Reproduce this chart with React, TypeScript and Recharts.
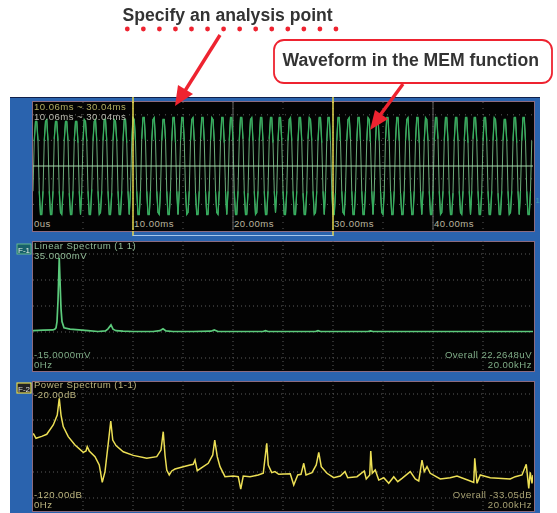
import React from "react";
import { LineChart, Line, XAxis, YAxis, CartesianGrid, ReferenceLine } from "recharts";

const FONT = '"Liberation Sans", Arial, sans-serif';

const timeTicks = [0, 10, 20, 30, 40];
const timeTickLabels = ["0us", "10.00ms", "20.00ms", "30.00ms", "40.00ms"];
const cursorTimes = [10, 30];
const majorTimes = [20, 40];

// Sampled every 0.125 ms, in mV, over 0 to 50 ms
const waveformValues = [
  -13,13,23,23,13,-13,-25,-25, -13,13,23,24,13,-13,-25,-25, -13,14,23,23,13,-13,-24,-25, -13,13,23,23,13,-14,-25,-25, -13,13,23,23,12,-13,-25,
  -13,13,24,23,13,-13,-25,-25, -12,13,23,24,13,-13,-25,-24, -13,13,24,24,13,-13,-25,-25, -14,13,24,23,13,-13,-25,-25, -13,13,24,24,12,-13,-25,
  -13,13,25,24,13,-13,-25,-25, -13,14,25,25,13,-13,-25,-25, -13,13,24,25,13,-13,-24,-25, -13,13,24,24,14,-13,-25,-25, -13,13,25,25,12,-13,-25,
  -13,13,25,25,13,-13,-25,-24, -13,13,24,25,13,-14,-25,-25, -13,14,25,25,13,-13,-25,-25, -13,13,25,24,13,-13,-24,-25, -13,13,25,25,12,-13,-25,
  -13,13,25,25,13,-13,-25,-25, -13,13,25,25,14,-13,-25,-25, -14,13,24,25,13,-13,-25,-24, -13,13,25,25,13,-13,-25,-25, -13,14,25,25,12,-13,-24,
  -13,13,25,25,13,-13,-25,-25, -13,13,24,25,13,-13,-25,-25, -13,13,25,25,13,-14,-25,-25, -13,14,25,24,13,-13,-25,-24, -13,13,25,25,12,-13,-25,
  -13,13,25,25,13,-13,-25,-25, -14,13,25,25,13,-13,-24,-25, -13,13,24,25,14,-13,-25,-25, -13,13,25,25,13,-13,-25,-25, -13,13,25,24,12,-13,-25,
  -13,13,25,25,13,-13,-24,-25, -13,14,25,25,13,-13,-25,-25, -13,13,25,25,13,-14,-25,-25, -13,13,24,25,13,-13,-25,-25, -13,13,25,25,12,-13,-25,
  -13,13,25,24,13,-13,-25,-25, -13,13,25,25,14,-13,-25,-24, -13,13,25,25,13,-13,-25,-25, -14,13,25,25,13,-13,-24,-25, -13,13,25,25,12,-13,-25,
  -13,14,25,25,13,-13,-25,-25, -13,13,25,25,13,-13,-25,-25, -13,13,25,24,13,-14,-25,-25, -13,13,24,24,13,-13,-25,-24, -13,13,25,25,12,-13,-25,
  -13,13,25,25,13,-13,-25,-25, -13,13,
];

const linearFreq = [0, 0.4, 0.8, 0.88, 0.92, 0.96, 1.0, 1.05, 1.08, 1.12, 1.16, 1.24, 1.48, 2.2, 2.6, 2.9, 3.0, 3.12, 3.2, 3.32, 3.6, 4.0, 4.8, 5.08, 5.2, 5.32, 5.6, 6.4, 7.12, 7.25, 7.4, 8.4, 9.2, 9.3, 9.4, 11.3, 11.4, 11.5, 13.4, 13.5, 13.6, 16, 20];
const linearValues = [0.5, 0.7, 0.8, 1.1, 1.6, 4, 12, 28.5, 20, 9, 4, 1.6, 1.1, 0.5, 0.2, 0.4, 1.2, 2.7, 1.1, 0.5, 0.3, 0.2, 0.2, 0.5, 1.2, 0.4, 0.2, 0.2, 0.3, 0.8, 0.2, 0.2, 0.2, 0.5, 0.2, 0.2, 0.5, 0.2, 0.2, 0.4, 0.2, 0.2, 0.2];

const powerFreq = [0.01,0.12,0.35,0.55,0.81,0.97,1.05,1.12,1.21,1.41,1.68,2.01,2.12,2.17,2.25,2.48,2.65,2.77,2.88,3.01,3.11,3.19,3.32,3.61,4.01,4.55,4.95,5.12,5.21,5.28,5.35,5.45,5.55,5.68,6.01,6.28,6.41,6.48,6.57,6.81,7.01,7.19,7.27,7.37,7.48,7.68,8.01,8.21,8.31,8.41,8.68,9.01,9.21,9.35,9.41,9.55,9.68,
  9.83,10.29,10.43,10.59,10.72,10.83,10.92,11.16,11.33,11.43,11.53,11.76,12.03,12.29,12.48,12.59,12.96,13.25,13.33,13.47,13.51,13.57,13.69,13.83,14.03,14.23,14.43,14.59,14.76,15.09,15.29,15.43,15.56,15.65,15.76,15.89,16.29,16.69,16.96,17.49,17.63,17.67,17.76,17.89,18.29,19.09,19.29,19.56,19.73,19.83,19.89,19.96,20];
const powerValues = [-60.3,-64.1,-62.6,-61,-53.8,-46.2,-33.3,-46.2,-55.1,-62.8,-69.2,-74.9,-73.8,-70.5,-73.8,-78.2,-84.6,-98,-89.7,-68,-50.8,-65.4,-69.7,-74.4,-77.2,-79.5,-78.2,-73.1,-59,-76.9,-88.5,-92.3,-89.2,-87.7,-85.9,-84.6,-84.1,-80.8,-89,-85.9,-83.3,-76.9,-65.4,-78.2,-85.9,-93.6,-93.1,-93.6,-103.1,-93.1,-93.6,-92.3,-91,-68,-84.6,-90.5,-89.7,
  -91.8,-91.3,-100,-92.3,-91.8,-83.3,-92.3,-90.5,-84.6,-74.9,-85.9,-91,-94.4,-93.1,-89.7,-94.4,-93.6,-89.2,-95.4,-92.3,-73.8,-91,-88.5,-96.2,-94.4,-98.7,-93.6,-97.4,-94.9,-89.7,-95.4,-96.9,-80.8,-89.7,-85.9,-91,-95.4,-94.4,-93.1,-96.9,-98,-79.5,-98.7,-92.3,-94.4,-95.4,-93.6,-92.3,-84.1,-102.6,-90.3,-98.7,-92.3];

const timeGrid = [5, 10, 15, 20, 25, 30, 35, 40, 45];
const freqGrid = [2, 4, 6, 8, 10, 12, 14, 16, 18];
const timeLevelGrid = [-26.4, -19.8, -13.2, -6.6, 6.6, 13.2, 19.8, 26.4];
const linearLevelGrid = [30, 25, 20, 15, 10, 5, 0, -5, -10];
const powerLevelGrid = [-30, -40, -50, -60, -70, -80, -90, -100, -110];

const waveformData = waveformValues.map((v, i) => ({
  t: i * 0.125,
  v,
  upper: v >= 12 ? v : null,
  lower: v <= -12 ? v : null,
}));
const linearData = linearFreq.map((f, i) => ({ f, v: linearValues[i] }));
const powerData = powerFreq.map((f, i) => ({ f, v: powerValues[i] }));

const BLUE = "#2a63ae";
const FRAME = "#8c6b80";
const RED = "#ee2330";
const YELLOW = "#e4d84e";
const GRID = "#5c5c5c";
const SMALL = 9.6;
const SPACING = 0.45;
const dots = [0, 1, 2, 3, 4, 5, 6, 7, 8, 9, 10, 11, 12, 13];

const TimeTick = (props: any) => {
  const { x, payload } = props;
  return (
    <text x={x + 1} y={125} textAnchor="start" fontFamily={FONT} fontSize={SMALL} letterSpacing={SPACING} fill="#b9b49e">
      {timeTickLabels[timeTicks.indexOf(payload.value)]}
    </text>
  );
};

const Frame = ({ top, children }: { top: number; children: React.ReactNode }) => (
  <div style={{ position: "absolute", left: 32, top, width: 503, height: 131, boxSizing: "border-box", border: `1.5px solid ${FRAME}`, background: "#030303" }}>
    {children}
  </div>
);

const chartStyle: React.CSSProperties = { position: "absolute", left: -0.5, top: -0.5 };

export default function App() {
  return (
    <div style={{ position: "absolute", left: 0, top: 0, width: 557, height: 513, background: "#fff", overflow: "hidden" }}>
      <div style={{ position: "absolute", left: 0, top: 0, width: 557, height: 513, filter: "blur(0.5px)" }}>
        <div style={{ position: "absolute", left: 10, top: 97, width: 530, height: 416, background: BLUE, borderTop: "1px solid #10204a", boxSizing: "border-box" }} />

        <Frame top={101}>
          <div style={chartStyle}>
            <LineChart width={500} height={128} data={waveformData} margin={{ top: 0, right: 0, bottom: 0, left: 0 }}>
              <CartesianGrid stroke={GRID} strokeDasharray="1 5" verticalValues={timeGrid} horizontalValues={timeLevelGrid} />
              <XAxis dataKey="t" type="number" domain={[0, 50]} ticks={timeTicks} mirror axisLine={false} tickLine={false} tick={<TimeTick />} interval={0} />
              <YAxis type="number" domain={[-33, 33]} hide />
              {majorTimes.map((x) => <ReferenceLine key={x} x={x} stroke="#6a6a6a" strokeWidth={1} />)}
              <Line dataKey="v" stroke="#78c088" strokeWidth={0.9} dot={false} isAnimationActive={false} />
              <ReferenceLine y={0} stroke="#a8d8ae" strokeWidth={1} />
              <Line dataKey="upper" stroke="#35ad5e" strokeWidth={1.3} dot={false} connectNulls={false} isAnimationActive={false} />
              <Line dataKey="lower" stroke="#35ad5e" strokeWidth={1.3} dot={false} connectNulls={false} isAnimationActive={false} />
              {cursorTimes.map((x) => <ReferenceLine key={x} x={x} stroke={YELLOW} strokeWidth={1.5} />)}
            </LineChart>
          </div>
        </Frame>

        <Frame top={240.5}>
          <div style={chartStyle}>
            <LineChart width={500} height={130} data={linearData} margin={{ top: 0, right: 0, bottom: 0, left: 0 }}>
              <CartesianGrid stroke={GRID} strokeDasharray="1 3" verticalValues={freqGrid} horizontalValues={linearLevelGrid} />
              <XAxis dataKey="f" type="number" domain={[0, 20]} hide />
              <YAxis type="number" domain={[-15, 35]} hide />
              <Line dataKey="v" stroke="#5ccb7c" strokeWidth={1.7} dot={false} isAnimationActive={false} />
            </LineChart>
          </div>
        </Frame>

        <Frame top={380.5}>
          <div style={chartStyle}>
            <LineChart width={500} height={130} data={powerData} margin={{ top: 0, right: 0, bottom: 0, left: 0 }}>
              <CartesianGrid stroke={GRID} strokeDasharray="1 3" verticalValues={freqGrid} horizontalValues={powerLevelGrid} />
              <XAxis dataKey="f" type="number" domain={[0, 20]} hide />
              <YAxis type="number" domain={[-120, -20]} hide />
              <Line dataKey="v" stroke="#ecdf55" strokeWidth={1.5} dot={false} isAnimationActive={false} />
            </LineChart>
          </div>
        </Frame>

        <svg width={557} height={513} style={{ position: "absolute", left: 0, top: 0 }} fontFamily={FONT} fontSize={SMALL} letterSpacing={SPACING}>
          <line x1={133} y1={97} x2={133} y2={103} stroke={YELLOW} strokeWidth={1.5} />
          <line x1={333} y1={97} x2={333} y2={103} stroke={YELLOW} strokeWidth={1.5} />
          <line x1={133} y1={231} x2={133} y2={236} stroke={YELLOW} strokeWidth={1.5} />
          <line x1={333} y1={231} x2={333} y2={236} stroke={YELLOW} strokeWidth={1.5} />
          <line x1={133} y1={235.5} x2={333} y2={235.5} stroke="#a9c8ec" strokeWidth={1.2} />

          <text x={34} y={110} fill="#b2ad60">10.06ms ~ 30.04ms</text>
          <text x={34} y={120} fill="#bcbcb2">10.06ms ~ 30.04ms</text>
          <text x={535.5} y={203} fontSize={8} fill="#3f9fb0">1</text>

          <rect x={17} y={244} width={14} height={10} fill="#17606a" stroke="#64b98a" strokeWidth={1} />
          <text x={24} y={252.5} fontSize={8} letterSpacing={0} fill="#e8f0e8" textAnchor="middle">F-1</text>
          <text x={34} y={249} fill="#92bb98">Linear Spectrum  (1 1)</text>
          <text x={34} y={258.5} fill="#92bb98">35.0000mV</text>
          <text x={34} y={358} fill="#80ad88">-15.0000mV</text>
          <text x={34} y={368} fill="#80ad88">0Hz</text>
          <text x={532} y={358} fill="#80ad88" textAnchor="end">Overall 22.2648uV</text>
          <text x={532} y={368} fill="#80ad88" textAnchor="end">20.00kHz</text>

          <rect x={17} y={383} width={14} height={10} fill="#222" stroke={YELLOW} strokeWidth={1.2} />
          <text x={24} y={391.5} fontSize={8} letterSpacing={0} fill="#ddd" textAnchor="middle">F-2</text>
          <text x={34} y={388} fill="#bdb680">Power Spectrum  (1-1)</text>
          <text x={34} y={398} fill="#bdb680">-20.00dB</text>
          <text x={34} y={498} fill="#bdb680">-120.00dB</text>
          <text x={34} y={508} fill="#bdb680">0Hz</text>
          <text x={532} y={498} fill="#a8a274" textAnchor="end">Overall -33.05dB</text>
          <text x={532} y={508} fill="#a8a274" textAnchor="end">20.00kHz</text>
        </svg>
      </div>

      <svg width={557} height={513} style={{ position: "absolute", left: 0, top: 0 }} fontFamily={FONT}>
        <text x={122.5} y={20.5} fontSize={17.6} fontWeight="bold" fill="#333">Specify an analysis point</text>
        {dots.map((d) => <circle key={d} cx={127.3 + d * 16.05} cy={29} r={2.4} fill={RED} />)}
        <line x1={220} y1={35} x2={183} y2={94} stroke={RED} strokeWidth={3.4} />
        <polygon points="175,106 178,85 193,94" fill={RED} />

        <rect x={274} y={40} width={278} height={43} rx={10} fill="#fff" stroke={RED} strokeWidth={1.8} />
        <text x={282.5} y={66} fontSize={17.6} fontWeight="bold" fill="#333">Waveform in the MEM function</text>
        <line x1={403} y1={84} x2={378} y2={118} stroke={RED} strokeWidth={3.4} />
        <polygon points="370,130 375,110 388,119" fill={RED} />
      </svg>
    </div>
  );
}
